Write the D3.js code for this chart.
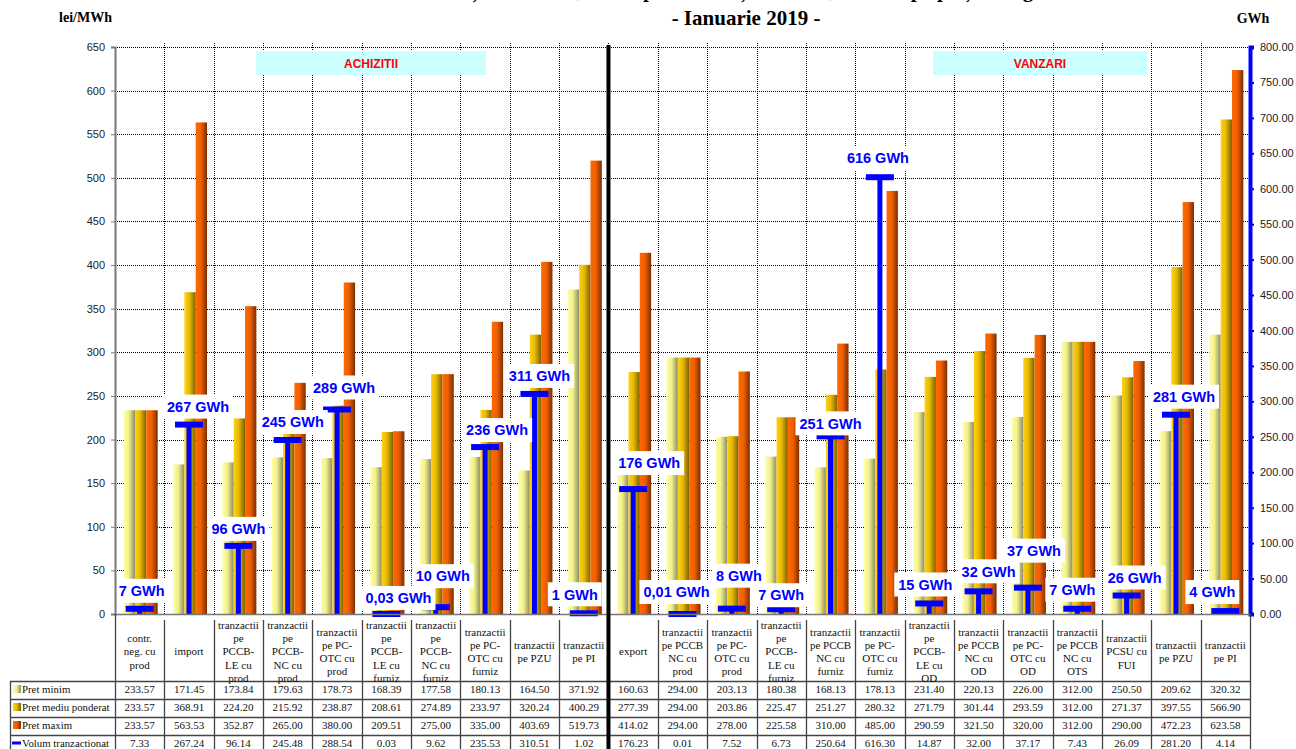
<!DOCTYPE html>
<html>
<head>
<meta charset="utf-8">
<script src="https://cdn.jsdelivr.net/npm/d3@7"></script>
<style>
  body { margin: 0; background: #fff; }
  svg { display: block; }
</style>
</head>
<body>
<script>
// categories, wrapped the way the table header shows them
const categories = [
  ["contr.", "neg. cu", "prod"],
  ["import"],
  ["tranzactii", "pe", "PCCB-", "LE cu", "prod"],
  ["tranzactii", "pe", "PCCB-", "NC cu", "prod"],
  ["tranzactii", "pe PC-", "OTC cu", "prod"],
  ["tranzactii", "pe", "PCCB-", "LE cu", "furniz"],
  ["tranzactii", "pe", "PCCB-", "NC cu", "furniz"],
  ["tranzactii", "pe PC-", "OTC cu", "furniz"],
  ["tranzactii", "pe PZU"],
  ["tranzactii", "pe PI"],
  ["export"],
  ["tranzactii", "pe PCCB", "NC cu", "prod"],
  ["tranzactii", "pe PC-", "OTC cu", "prod"],
  ["tranzactii", "pe", "PCCB-", "LE cu", "furniz"],
  ["tranzactii", "pe PCCB", "NC cu", "furniz"],
  ["tranzactii", "pe PC-", "OTC cu", "furniz"],
  ["tranzactii", "pe", "PCCB-", "LE cu", "OD"],
  ["tranzactii", "pe PCCB", "NC cu", "OD"],
  ["tranzactii", "pe PC-", "OTC cu", "OD"],
  ["tranzactii", "pe PCCB", "NC cu", "OTS"],
  ["tranzactii", "PCSU cu", "FUI"],
  ["tranzactii", "pe PZU"],
  ["tranzactii", "pe PI"]
];

const pretMinim = [233.57, 171.45, 173.84, 179.63, 178.73, 168.39, 177.58, 180.13, 164.50, 371.92,
  160.63, 294.00, 203.13, 180.38, 168.13, 178.13, 231.40, 220.13, 226.00, 312.00, 250.50, 209.62, 320.32];
const pretMediu = [233.57, 368.91, 224.20, 215.92, 238.87, 208.61, 274.89, 233.97, 320.24, 400.29,
  277.39, 294.00, 203.86, 225.47, 251.27, 280.32, 271.79, 301.44, 293.59, 312.00, 271.37, 397.55, 566.90];
const pretMaxim = [233.57, 563.53, 352.87, 265.00, 380.00, 209.51, 275.00, 335.00, 403.69, 519.73,
  414.02, 294.00, 278.00, 225.58, 310.00, 485.00, 290.59, 321.50, 320.00, 312.00, 290.00, 472.23, 623.58];
const volum = [7.33, 267.24, 96.14, 245.48, 288.54, 0.03, 9.62, 235.53, 310.51, 1.02,
  176.23, 0.01, 7.52, 6.73, 250.64, 616.30, 14.87, 32.00, 37.17, 7.43, 26.09, 281.20, 4.14];

const seriesNames = ["Pret minim", "Pret mediu ponderat", "Pret maxim", "Volum tranzactionat"];
const leftTicks = d3.range(0, 651, 50);
const rightTicks = d3.range(0, 801, 50);
const nAchizitii = 10;

// layout
const W = 1296, H = 749;
const plot = { left: 115, right: 1250, top: 47, bottom: 614 };
const tableTop = 620, headerBottom = 681, rowH = 18;

// the volume labels were dragged by hand in the original; offsets from the cap [dx, dy]
const labelNudge = [
  [2, -18], [9, -18], [0, -17], [5, -18], [7, -22], [12, -16], [7, -31], [12, -17], [5, -18], [-9, -19],
  [16, -26], [-6, -22], [7, -33], [0, -14], [0, -13], [-2, -19], [-4, -19], [10, -20], [6, -37], [-5, -19],
  [8, -18], [8, -18], [-13, -19]
];

const svg = d3.select("body").append("svg")
  .attr("width", W).attr("height", H)
  .style("font-family", "Arial, 'Liberation Sans', sans-serif");

const x = d3.scaleBand()
  .domain(d3.range(categories.length))
  .range([plot.left, plot.right])
  .padding(0);
const bw = x.bandwidth();

const y = d3.scaleLinear().domain([0, 650]).range([plot.bottom, plot.top]);
const y1 = d3.scaleLinear().domain([0, 800]).range([plot.bottom, plot.top]);

const inner = d3.scaleBand().domain([0, 1, 2]).range([0, 34]);
const groupOff = (bw - 34) / 2 + 1;

// gradients for the bars
const defs = svg.append("defs");
const grads = [
  ["gMin", ["#ffffa6", "#f2f08a", "#8c8c66"]],
  ["gMed", ["#ffd21a", "#e6b800", "#7a6000"]],
  ["gMax", ["#ff6a00", "#f06000", "#7a2e00"]]
];
grads.forEach(([id, c]) => {
  const g = defs.append("linearGradient").attr("id", id)
    .attr("x1", "0%").attr("x2", "100%").attr("y1", "0%").attr("y2", "0%");
  g.append("stop").attr("offset", "0%").attr("stop-color", c[0]);
  g.append("stop").attr("offset", "45%").attr("stop-color", c[1]);
  g.append("stop").attr("offset", "100%").attr("stop-color", c[2]);
});

// title (first line is cut by the frame, only its descenders show)
svg.append("text")
  .attr("x", 746).attr("y", -3)
  .attr("text-anchor", "middle")
  .style("font-family", "'Liberation Serif', 'Times New Roman', serif")
  .style("font-weight", "bold").style("font-size", "21px")
  .text("Prețuri minime, medii ponderate și maxime, volume pe piețele angro");

svg.append("text")
  .attr("x", 746).attr("y", 25)
  .attr("text-anchor", "middle")
  .style("font-family", "'Liberation Serif', 'Times New Roman', serif")
  .style("font-weight", "bold").style("font-size", "21px")
  .text("- Ianuarie 2019 -");

svg.append("text")
  .attr("x", 112).attr("y", 22)
  .attr("text-anchor", "end")
  .style("font-family", "'Liberation Serif', 'Times New Roman', serif")
  .style("font-weight", "bold").style("font-size", "14px")
  .text("lei/MWh");

svg.append("text")
  .attr("x", 1253).attr("y", 23)
  .attr("text-anchor", "middle")
  .style("font-family", "'Liberation Serif', 'Times New Roman', serif")
  .style("font-weight", "bold").style("font-size", "14px")
  .text("GWh");

// gridlines
const grid = svg.append("g").attr("stroke", "#000").attr("stroke-width", 1)
  .attr("stroke-dasharray", "1,1");
grid.selectAll(".hg").data(leftTicks.filter(d => d > 0))
  .enter().append("line")
  .attr("x1", plot.left).attr("x2", plot.right)
  .attr("y1", d => Math.round(y(d)) + 0.5).attr("y2", d => Math.round(y(d)) + 0.5);
grid.selectAll(".vg").data(d3.range(1, categories.length))
  .enter().append("line")
  .attr("x1", d => Math.round(x(d)) + 0.5).attr("x2", d => Math.round(x(d)) + 0.5)
  .attr("y1", plot.top - 4).attr("y2", plot.bottom);

// section boxes
const sections = [
  { name: "ACHIZITII", x0: 256, x1: 486 },
  { name: "VANZARI", x0: 933, x1: 1147 }
];
sections.forEach(s => {
  svg.append("rect")
    .attr("x", s.x0).attr("y", 51).attr("width", s.x1 - s.x0).attr("height", 24)
    .attr("fill", "#ccffff");
  svg.append("text")
    .attr("x", (s.x0 + s.x1) / 2).attr("y", 67.5)
    .attr("text-anchor", "middle")
    .attr("fill", "#ff0000")
    .style("font-weight", "bold").style("font-size", "12px")
    .text(s.name);
});

// bars
const series = [pretMinim, pretMediu, pretMaxim];
const gradIds = ["gMin", "gMed", "gMax"];
series.forEach((vals, si) => {
  svg.append("g").selectAll("rect").data(vals)
    .enter().append("rect")
    .attr("x", (d, i) => x(i) + groupOff + inner(si))
    .attr("width", inner.bandwidth())
    .attr("y", d => y(d))
    .attr("height", d => y(0) - y(d))
    .attr("fill", "url(#" + gradIds[si] + ")");
});

// volume markers
const vol = svg.append("g").attr("stroke", "#0000ff");
vol.selectAll(".vline").data(volum)
  .enter().append("line")
  .attr("x1", (d, i) => x(i) + bw / 2).attr("x2", (d, i) => x(i) + bw / 2)
  .attr("y1", y1(0)).attr("y2", d => y1(d))
  .attr("stroke-width", 5);
vol.selectAll(".vcap").data(volum)
  .enter().append("line")
  .attr("x1", (d, i) => x(i) + bw / 2 - 14).attr("x2", (d, i) => x(i) + bw / 2 + 14)
  .attr("y1", d => y1(d)).attr("y2", d => y1(d))
  .attr("stroke-width", 6);

// volume labels
const fmtVol = v => v < 0.5 ? v.toFixed(2).replace(".", ",") + " GWh" : Math.round(v) + " GWh";
const lab = svg.append("g").selectAll("g").data(volum)
  .enter().append("g")
  .attr("transform", (d, i) =>
    `translate(${x(i) + bw / 2 + labelNudge[i][0]},${y1(d) + labelNudge[i][1]})`);
lab.append("text")
  .attr("text-anchor", "middle").attr("dy", "0.36em")
  .attr("fill", "#0000ff")
  .style("font-weight", "bold").style("font-size", "14.5px")
  .text(fmtVol);
lab.each(function() {
  const g = d3.select(this);
  const b = g.select("text").node().getBBox();
  g.insert("rect", "text")
    .attr("x", b.x - 4).attr("y", -12)
    .attr("width", b.width + 8).attr("height", 24)
    .attr("fill", "#fff");
});

// left axis
const axL = svg.append("g")
  .attr("transform", `translate(${plot.left},0)`)
  .call(d3.axisLeft(y).tickValues(leftTicks).tickSize(4).tickPadding(6));
axL.select(".domain").attr("stroke", "#777").attr("stroke-width", 2);
axL.selectAll(".tick line").attr("stroke", "#777");
axL.selectAll("text").style("font-size", "11px").attr("fill", "#222")
  .style("font-family", "Arial, 'Liberation Sans', sans-serif");

// right axis
const axR = svg.append("g")
  .attr("transform", `translate(${plot.right},0)`)
  .call(d3.axisRight(y1).tickValues(rightTicks).tickSize(4).tickPadding(6)
    .tickFormat(d3.format(".2f")));
axR.select(".domain").attr("stroke", "#0000ff").attr("stroke-width", 4);
axR.selectAll(".tick line").attr("stroke", "#0000ff").attr("stroke-width", 2);
axR.selectAll("text").style("font-size", "11px").attr("fill", "#222")
  .style("font-family", "Arial, 'Liberation Sans', sans-serif");

// bottom axis line
svg.append("line")
  .attr("x1", plot.left).attr("x2", plot.right)
  .attr("y1", plot.bottom + 0.5).attr("y2", plot.bottom + 0.5)
  .attr("stroke", "#777").attr("stroke-width", 1.5);

// data table
const table = svg.append("g")
  .style("font-family", "'Liberation Serif', 'Times New Roman', serif");
const rowsTop = headerBottom;
const tableBottom = rowsTop + rowH * 4;
const colX = d => Math.round(d === categories.length ? plot.right : x(d)) + 0.5;

// vertical column lines
table.selectAll(".cl").data(d3.range(0, categories.length + 1))
  .enter().append("line")
  .attr("x1", colX).attr("x2", colX)
  .attr("y1", d => (d === 0 || d === categories.length) ? plot.bottom : tableTop)
  .attr("y2", tableBottom)
  .attr("stroke", "#444").attr("stroke-width", 1.3);
// label column left edge
table.append("line")
  .attr("x1", 10.5).attr("x2", 10.5).attr("y1", rowsTop).attr("y2", tableBottom)
  .attr("stroke", "#444").attr("stroke-width", 1.3);
// horizontal row lines
table.selectAll(".rl").data(d3.range(0, 5))
  .enter().append("line")
  .attr("x1", 10).attr("x2", plot.right)
  .attr("y1", d => rowsTop + d * rowH + 0.5).attr("y2", d => rowsTop + d * rowH + 0.5)
  .attr("stroke", "#444").attr("stroke-width", 1.3);

// header text
const head = table.selectAll(".hd").data(categories)
  .enter().append("text")
  .attr("text-anchor", "middle")
  .style("font-size", "11px")
  .attr("fill", "#111");
head.each(function(lines, i) {
  const t = d3.select(this);
  const lh = 13.2;
  const cy = (tableTop + headerBottom) / 2 + 1;
  const y0 = cy - (lines.length - 1) * lh / 2;
  lines.forEach((ln, k) => {
    t.append("tspan")
      .attr("x", x(i) + bw / 2)
      .attr("y", y0 + k * lh)
      .attr("dy", "0.35em")
      .text(ln);
  });
});

// row labels with legend keys
const allRows = [pretMinim, pretMediu, pretMaxim, volum];
seriesNames.forEach((name, r) => {
  const cy = rowsTop + r * rowH + rowH / 2 - 1;
  if (r < 3) {
    table.append("rect")
      .attr("x", 13).attr("y", cy - 4).attr("width", 8).attr("height", 8)
      .attr("fill", "url(#" + gradIds[r] + ")");
  } else {
    table.append("line")
      .attr("x1", 12).attr("x2", 21).attr("y1", cy).attr("y2", cy)
      .attr("stroke", "#0000ff").attr("stroke-width", 3);
  }
  table.append("text")
    .attr("x", 22).attr("y", cy).attr("dy", "0.35em")
    .style("font-size", "10.8px").attr("fill", "#111")
    .text(name);
  table.selectAll(".v" + r).data(allRows[r])
    .enter().append("text")
    .attr("x", (d, i) => x(i) + bw / 2)
    .attr("y", cy).attr("dy", "0.35em")
    .attr("text-anchor", "middle")
    .style("font-size", "11px").attr("fill", "#111")
    .text(d => d.toFixed(2));
});

// separator between achizitii and vanzari
svg.append("line")
  .attr("x1", x(nAchizitii)).attr("x2", x(nAchizitii))
  .attr("y1", plot.top - 2).attr("y2", H)
  .attr("stroke", "#000").attr("stroke-width", 4);
</script>
</body>
</html>
